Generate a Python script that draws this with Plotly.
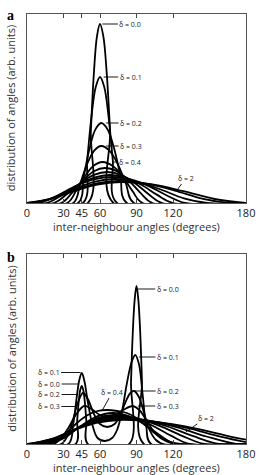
import plotly.graph_objects as go

# ---------------- Panel a : curves (x = angle in degrees, y = arb. units) -------------
A_D00_X = [0, 50, 52.5, 55, 57.5, 60, 62.75, 65.5, 68.25, 71, 180]
A_D00_Y = [0, 0, 72.1, 130.4, 166.7, 179, 166.7, 130.4, 72.1, 0, 0]
A_D01_X = [0, 46, 49.5, 53, 56.5, 60, 63.5, 67, 70.5, 74, 180]
A_D01_Y = [0, 0, 43.1, 86.7, 115.9, 126, 115.9, 86.7, 43.1, 0, 0]
A_D02_X = [0, 42, 46.75, 51.5, 56.25, 61, 66.25, 71.5, 76.75, 82, 180]
A_D02_Y = [0, 0, 27.3, 55.0, 73.6, 80, 73.6, 55.0, 27.3, 0, 0]
A_D03_X = [0, 38, 43.75, 49.5, 55.25, 61, 67.75, 74.5, 81.25, 88, 180]
A_D03_Y = [0, 0, 19.5, 39.2, 52.4, 57, 52.4, 39.2, 19.5, 0, 0]
A_D04_X = [0, 33, 40.25, 47.5, 54.75, 62, 70.25, 78.5, 86.75, 95, 180]
A_D04_Y = [0, 0, 11.9, 26.6, 37.2, 41, 37.2, 26.6, 11.9, 0, 0]
A_D05_X = [0, 28, 37, 46, 55, 64, 73.75, 83.5, 93.25, 103, 180]
A_D05_Y = [0, 0, 10.1, 22.7, 31.8, 35, 31.8, 22.7, 10.1, 0, 0]
A_D06_X = [0, 22, 33, 44, 55, 66, 77.25, 88.5, 99.75, 111, 180]
A_D06_Y = [0, 0, 9.0, 20.1, 28.1, 31, 28.1, 20.1, 9.0, 0, 0]
A_D07_X = [0, 16, 29, 42, 55, 68, 81, 94, 107, 120, 180]
A_D07_Y = [0, 0, 8.1, 18.2, 25.4, 28, 25.4, 18.2, 8.1, 0, 0]
A_D08_X = [0, 10, 25, 40, 55, 70, 85, 100, 115, 130, 180]
A_D08_Y = [0, 0, 7.5, 16.9, 23.6, 26, 23.6, 16.9, 7.5, 0, 0]
A_D10_X = [0, 4, 21, 38, 55, 72, 91, 110, 129, 148, 180]
A_D10_Y = [0, 0, 4.6, 13.5, 21.1, 24, 21.1, 13.5, 4.6, 0, 0]
A_D15_X = [0, 18.75, 37.5, 56.25, 75, 98.25, 121.5, 144.75, 168, 180]
A_D15_Y = [0, 4.2, 12.4, 19.3, 22, 19.3, 12.4, 4.2, 0, 0]
A_D20_X = [0, 19.25, 38.5, 57.75, 77, 102.75, 128.5, 154.25, 180]
A_D20_Y = [0, 4.0, 11.8, 18.5, 21, 18.5, 11.8, 4.0, 0]

# ---------------- Panel b -------------
B_D00_X = [0, 40, 41.25, 42.5, 43.75, 45, 46.25, 47.5, 48.75, 50, 84, 85.5, 87, 88.5, 90, 91.5, 93, 94.5, 96, 180]
B_D00_Y = [0, 0, 23.4, 42.3, 54.0, 58, 54.0, 42.3, 23.4, 0, 0, 62.4, 113, 144.4, 158, 144.4, 113, 62.4, 0, 0]
B_D01_X = [0, 34, 38, 41, 43, 45, 47, 50, 54, 58, 64, 70, 74, 78, 82, 86, 89, 92, 95, 98, 102, 180]
B_D01_Y = [0, 0, 20, 48, 64, 71, 64, 42, 18, 6, 3, 6, 14, 32, 60, 82, 89, 80, 50, 18, 0, 0]
B_D02_X = [0, 28, 34, 38, 42, 46, 50, 55, 60, 66, 72, 77, 81, 85, 88, 92, 96, 100, 106, 112, 180]
B_D02_Y = [0, 0, 10, 25, 42, 51, 45, 30, 20, 17, 20, 30, 42, 51, 53, 47, 32, 16, 4, 0, 0]
B_D03_X = [0, 22, 28, 34, 40, 47, 53, 60, 66, 72, 79, 87, 93, 99, 106, 114, 122, 180]
B_D03_Y = [0, 0, 6, 16, 29, 38, 35, 29, 27, 29, 34, 38, 33, 22, 10, 3, 0, 0]
B_D04_X = [0, 18, 26, 34, 42, 50, 58, 66, 74, 82, 90, 98, 106, 116, 126, 180]
B_D04_Y = [0, 0, 5, 13, 22, 29, 33, 34, 33, 31, 26, 18, 10, 3, 0, 0]
B_D05_X = [0, 17, 30.25, 43.5, 56.75, 70, 83, 96, 109, 122, 180]
B_D05_Y = [0, 0, 5.9, 17.4, 27.2, 31, 28.1, 20.1, 9.0, 0, 0]
B_D06_X = [0, 14, 28.25, 42.5, 56.75, 71, 86.75, 102.5, 118.25, 134, 180]
B_D06_Y = [0, 0, 5.6, 16.3, 25.5, 29, 26.3, 18.8, 8.4, 0, 0]
B_D07_X = [0, 11, 26.25, 41.5, 56.75, 72, 90.5, 109, 127.5, 146, 180]
B_D07_Y = [0, 0, 5.4, 15.8, 24.6, 28, 25.4, 18.2, 8.1, 0, 0]
B_D08_X = [0, 8, 24.25, 40.5, 56.75, 73, 94.25, 115.5, 136.75, 158, 180]
B_D08_Y = [0, 0, 5.2, 15.2, 23.7, 27, 24.5, 17.5, 7.8, 0, 0]
B_D10_X = [0, 5, 22.25, 39.5, 56.75, 74, 98.5, 123, 147.5, 172, 180]
B_D10_Y = [0, 0, 5.0, 14.6, 22.9, 26, 23.6, 16.9, 7.5, 0, 0]
B_D15_X = [0, 2, 20.25, 38.5, 56.75, 75, 103.25, 131.5, 159.75, 188]
B_D15_Y = [0, 0, 4.8, 14.1, 22.0, 25, 22.7, 16.2, 7.2, 0]
B_D20_X = [0, 19, 38, 57, 76, 107, 138, 169, 200]
B_D20_Y = [0, 4.6, 13.5, 21.1, 24, 21.8, 15.6, 6.9, 0]

TICK_VALS = [0, 30, 45, 60, 90, 120, 180]
TICK_TEXT = ["0", "30", "45", "60", "90", "120", "180"]

# delta labels: (text, x, y, ax, ay)
A_LABELS = [("δ = 0.0", 62, 179, 28, 0), ("δ = 0.1", 63, 126, 27, 0),
            ("δ = 0.2", 65, 80, 25, 0), ("δ = 0.3", 65, 57, 25, 0),
            ("δ = 0.4", 70, 41, 18, 0), ("δ = 2", 124, 14, 8, -11)]
B_LABELS = [("δ = 0.0", 91, 155, 30, 0), ("δ = 0.1", 92, 87, 29, 0),
            ("δ = 0.2", 88, 53, 34, 0), ("δ = 0.3", 91, 38, 30, 0),
            ("δ = 2", 130.5, 12, 20, -14), ("δ = 0.4", 62, 34, 10, -18),
            ("δ = 0.1", 44, 71.5, -32, 0), ("δ = 0.0", 42, 60, -29, 0),
            ("δ = 0.2", 42, 49.5, -29, 0), ("δ = 0.3", 41, 37.5, -28, 0)]

A_CURVES = [(A_D00_X, A_D00_Y), (A_D01_X, A_D01_Y), (A_D02_X, A_D02_Y), (A_D03_X, A_D03_Y),
            (A_D04_X, A_D04_Y), (A_D05_X, A_D05_Y), (A_D06_X, A_D06_Y), (A_D07_X, A_D07_Y),
            (A_D08_X, A_D08_Y), (A_D10_X, A_D10_Y), (A_D15_X, A_D15_Y), (A_D20_X, A_D20_Y)]
B_CURVES = [(B_D00_X, B_D00_Y), (B_D01_X, B_D01_Y), (B_D02_X, B_D02_Y), (B_D03_X, B_D03_Y),
            (B_D04_X, B_D04_Y), (B_D05_X, B_D05_Y), (B_D06_X, B_D06_Y), (B_D07_X, B_D07_Y),
            (B_D08_X, B_D08_Y), (B_D10_X, B_D10_Y), (B_D15_X, B_D15_Y), (B_D20_X, B_D20_Y)]

FONT = "Open Sans"
fig = go.Figure()
for xs, ys in A_CURVES:
    fig.add_trace(go.Scatter(x=xs, y=ys, mode="lines", xaxis="x", yaxis="y",
                             line=dict(color="black", width=1.8, shape="spline"), showlegend=False))
for xs, ys in B_CURVES:
    fig.add_trace(go.Scatter(x=xs, y=ys, mode="lines", xaxis="x2", yaxis="y2",
                             line=dict(color="black", width=1.8, shape="spline"), showlegend=False))

H = 475
MT, MB = 14, 31
PH = H - MT - MB


def py(px):
    return (H - MB - px) / PH


axis_x = dict(range=[0, 180], tickvals=TICK_VALS, ticktext=TICK_TEXT, ticks="inside", ticklen=4,
              tickcolor="#444", showline=True, linecolor="#555", linewidth=1, mirror="ticks",
              showgrid=False, zeroline=False, ticklabeloverflow="allow",
              tickfont=dict(family=FONT, size=11, color="#222"))
axis_y = dict(showline=True, linecolor="#555", linewidth=1, mirror=True, showgrid=False,
              zeroline=False, showticklabels=False, ticks="")

fig.update_layout(
    width=265, height=475, margin=dict(l=27, r=10, t=MT, b=MB),
    plot_bgcolor="white", paper_bgcolor="white",
    xaxis=dict(axis_x, domain=[0, 1], anchor="y"),
    yaxis=dict(axis_y, range=[0, 189], domain=[py(203), py(14)], anchor="x"),
    xaxis2=dict(axis_x, domain=[0, 1], anchor="y2"),
    yaxis2=dict(axis_y, range=[0, 190], domain=[py(444), py(254)], anchor="x2"),
)

ann = []
for t, x, y, ax, ay in A_LABELS:
    ann.append(dict(text=t, x=x, y=y, xref="x", yref="y", ax=ax, ay=ay, showarrow=True,
                    arrowhead=0, arrowwidth=0.9, arrowcolor="black", standoff=0,
                    font=dict(family=FONT, size=7, color="#222")))
for t, x, y, ax, ay in B_LABELS:
    ann.append(dict(text=t, x=x, y=y, xref="x2", yref="y2", ax=ax, ay=ay, showarrow=True,
                    arrowhead=0, arrowwidth=0.9, arrowcolor="black", standoff=0,
                    font=dict(family=FONT, size=7, color="#222")))

TITLE_X = "inter-neighbour angles (degrees)"
TITLE_Y = "distribution of angles (arb. units)"
for ypx in (226.5, 467.5):
    ann.append(dict(text=TITLE_X, x=0.5, y=py(ypx), xref="paper", yref="paper", showarrow=False,
                    xanchor="center", yanchor="middle", font=dict(family=FONT, size=11, color="#333")))
for ypx in (108.5, 349):
    ann.append(dict(text=TITLE_Y, x=-17 / 228, y=py(ypx), xref="paper", yref="paper", showarrow=False,
                    textangle=-90, xanchor="center", yanchor="middle",
                    font=dict(family=FONT, size=11, color="#333")))
for lbl, ypx in (("a", 16), ("b", 257)):
    ann.append(dict(text="<b>" + lbl + "</b>", x=-23 / 228, y=py(ypx), xref="paper", yref="paper",
                    showarrow=False, xanchor="left", yanchor="middle",
                    font=dict(family="Liberation Serif", size=14, color="black")))
fig.update_layout(annotations=ann)

fig.write_html("out.html")
